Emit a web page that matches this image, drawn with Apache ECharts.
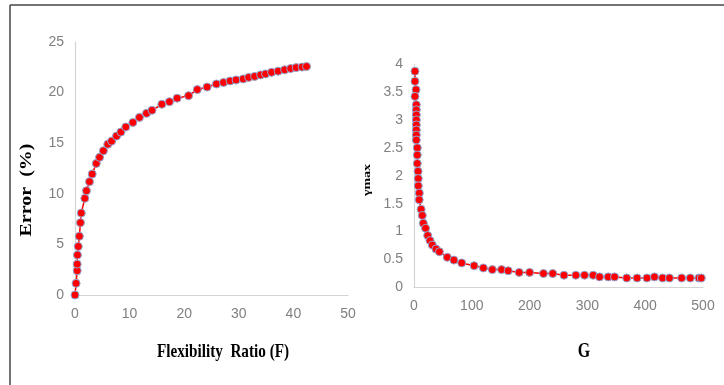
<!DOCTYPE html>
<html>
<head>
<meta charset="utf-8">
<script src="https://cdn.jsdelivr.net/npm/echarts@6/dist/echarts.min.js"></script>
<style>
  html, body { margin: 0; padding: 0; background: #fff; }
  #main { width: 724px; height: 385px; }
</style>
</head>
<body>
<div id="main"></div>
<script>
// left panel: error vs flexibility ratio
const flexRatio = [0, 0.2, 0.4, 0.4, 0.45, 0.6, 0.8, 1.0, 1.15, 1.8, 2.1, 2.65, 3.15, 3.9, 4.5, 5.2, 6.0, 6.7, 7.6, 8.4,
  9.3, 10.6, 11.8, 13.1, 14.1, 15.9, 17.3, 18.7, 20.8, 22.4, 24.2, 25.9, 27.2, 28.4, 29.5, 30.8, 31.8, 32.9, 34.0,
  34.9, 36.0, 37.2, 38.4, 39.5, 40.5, 41.6, 42.4]
const errorPct = [0, 1.15, 2.4, 3.05, 3.95, 4.8, 5.8, 7.15, 8.1, 9.55, 10.3, 11.2, 11.95, 13.0, 13.6, 14.25, 14.9, 15.2,
  15.7, 16.1, 16.6, 17.05, 17.55, 17.95, 18.25, 18.85, 19.1, 19.45, 19.7, 20.3, 20.55, 20.85, 21.0, 21.15, 21.25,
  21.35, 21.5, 21.6, 21.75, 21.85, 22.0, 22.12, 22.25, 22.38, 22.47, 22.52, 22.58]

// right panel: gamma max vs G
const gValues = [1.7, 1.7, 3.5, 1.7, 4, 4, 4, 4, 4, 4, 4, 4, 5.7, 5.7, 5.7, 7, 7.4, 7.4, 9.2, 9, 12.3, 14.4, 16.1, 20,
  23.7, 27.7, 31.7, 38, 44, 57.6, 69, 82.5, 104, 120, 135.5, 151.5, 163, 182, 200, 224, 240, 259.5, 280, 295, 310,
  321, 336, 347, 368, 386, 403, 416, 430, 442, 463, 478, 493, 497]
const gammaMax = [3.87, 3.69, 3.54, 3.42, 3.27, 3.18, 3.09, 3.0, 2.91, 2.82, 2.73, 2.64, 2.5, 2.37, 2.22, 2.08, 1.95,
  1.82, 1.69, 1.57, 1.4, 1.29, 1.15, 1.06, 0.93, 0.84, 0.76, 0.69, 0.64, 0.54, 0.49, 0.44, 0.39, 0.35, 0.32, 0.32,
  0.30, 0.27, 0.27, 0.25, 0.25, 0.22, 0.22, 0.22, 0.22, 0.19, 0.19, 0.19, 0.17, 0.17, 0.17, 0.19, 0.17, 0.17, 0.17,
  0.17, 0.17, 0.17]

const leftTicks = { min: 0, max: 50, interval: 10, yMin: 0, yMax: 25, yInterval: 5 }
const rightTicks = { min: 0, max: 500, interval: 100, yMin: 0, yMax: 4, yInterval: 0.5 }

const labelFont = { color: '#808080', fontFamily: 'Liberation Sans Narrow, Arial Narrow, sans-serif', fontSize: 14 }
const titleFont = { fill: '#000', fontFamily: 'Liberation Serif, Times New Roman, serif', fontWeight: 'bold' }

const chart = echarts.init(document.getElementById('main'))

function axis(gridIndex, t, isY) {
  return {
    type: 'value',
    gridIndex,
    min: isY ? t.yMin : t.min,
    max: isY ? t.yMax : t.max,
    interval: isY ? t.yInterval : t.interval,
    splitLine: { show: false },
    axisTick: { show: false },
    axisLine: { show: true, lineStyle: { color: '#d4d4d4', width: 1.2 } },
    axisLabel: Object.assign({ margin: isY ? 11 : 12 }, labelFont)
  }
}

function series(i, xs, ys) {
  return {
    type: 'line',
    xAxisIndex: i,
    yAxisIndex: i,
    data: xs.map((x, k) => [x, ys[k]]),
    symbol: 'circle',
    symbolSize: 8,
    itemStyle: { color: '#ff0000', borderColor: '#8fa8d6', borderWidth: 1 },
    lineStyle: { color: '#ff0000', width: 1.5 },
    animation: false
  }
}

// the source picture is squeezed horizontally, so the titles get a narrower scale
function title(text, x, y, size, rotated) {
  return {
    type: 'text', x, y,
    rotation: rotated ? Math.PI / 2 : 0,
    scaleX: rotated ? 1 : 0.8,
    scaleY: rotated ? 0.8 : 1,
    style: Object.assign({ text, fontSize: size, align: 'center', verticalAlign: 'middle' }, titleFont)
  }
}

chart.setOption({
  backgroundColor: '#fff',
  grid: [
    { left: 75, top: 42, width: 273, height: 253 },
    { left: 414, top: 64, width: 289, height: 223.5 }
  ],
  xAxis: [axis(0, leftTicks, false), axis(1, rightTicks, false)],
  yAxis: [axis(0, leftTicks, true), axis(1, rightTicks, true)],
  series: [series(0, flexRatio, errorPct), series(1, gValues, gammaMax)],
  graphic: [
    { type: 'line', shape: { x1: 10, y1: 5, x2: 10, y2: 385 }, style: { stroke: '#444', lineWidth: 1.5 } },
    { type: 'line', shape: { x1: 10, y1: 5, x2: 724, y2: 5 }, style: { stroke: '#444', lineWidth: 1.5 } },
    title('Error  (%)', 27, 190, 20, true),
    title('Flexibility  Ratio (F)', 223, 352, 19, false),
    title('G', 584, 352, 20, false),
    title('γmax', 367, 180, 14, true)
  ]
})
</script>
</body>
</html>
